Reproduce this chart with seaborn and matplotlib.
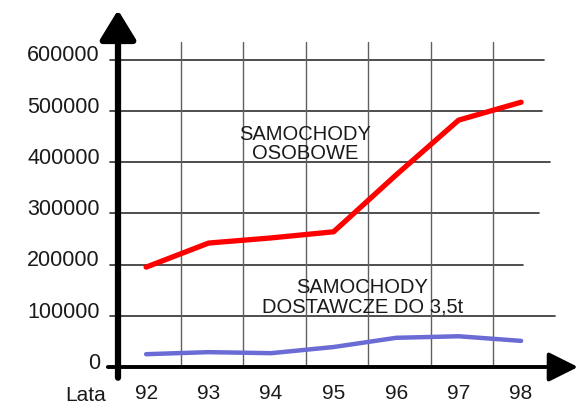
import numpy as np
import pandas as pd
import matplotlib
matplotlib.use('Agg')
import matplotlib.pyplot as plt
import matplotlib.transforms as mtransforms
import seaborn as sns

# dane
lata = [92, 93, 94, 95, 96, 97, 98]
osobowe = [195000, 242000, 252000, 264000, 375000, 482000, 517000]
dostawcze = [25000, 29000, 27000, 39000, 57000, 60000, 51000]
y_ticks = [0, 100000, 200000, 300000, 400000, 500000, 600000]
y_labels = ['0', '100000', '200000', '300000', '400000', '500000', '600000']
x_labels = ['92', '93', '94', '95', '96', '97', '98']

df = pd.DataFrame({'rok': lata, 'osobowe': osobowe, 'dostawcze': dostawcze})

sns.set_style('white')
plt.rcParams['font.family'] = ['Liberation Sans', 'DejaVu Sans']

fig = plt.figure(figsize=(5.78, 4.07), dpi=100)
ax = fig.add_axes([118 / 578, 40 / 407, 460 / 578, 357 / 407])
ax.set_xlim(91.55, 98.91)
ax.set_ylim(0, 697000)
for s in ax.spines.values():
    s.set_visible(False)

# siatka
grid_ends = [98.54, 98.03, 98.29, 98.46, 98.34, 98.37]
for v, xe in zip(y_ticks[1:], grid_ends):
    ax.plot([91.42, xe], [v, v], color='#303030', lw=1.2, zorder=1, clip_on=False)
for x in np.arange(92.5, 98, 1.0):
    ax.plot([x + 0.05, x + 0.05], [0, 635000], color='#606060', lw=1.0, zorder=1)

sns.lineplot(data=df, x='rok', y='osobowe', ax=ax, color='#ff0000', lw=3.8, zorder=3)
sns.lineplot(data=df, x='rok', y='dostawcze', ax=ax, color='#6b6bd6', lw=3.2, zorder=3)

# osie ze strzalkami
ax.annotate('', xy=(0, 1.0), xytext=(0, -0.03), xycoords='axes fraction',
            arrowprops=dict(arrowstyle='-|>,head_length=0.9,head_width=0.55',
                            lw=4.5, color='black', mutation_scale=20, shrinkA=0, shrinkB=0),
            annotation_clip=False, zorder=4)
ax.annotate('', xy=(1.0, 0), xytext=(-0.022, 0), xycoords='axes fraction',
            arrowprops=dict(arrowstyle='-|>,head_length=0.9,head_width=0.45',
                            lw=2.8, color='black', mutation_scale=20, shrinkA=0, shrinkB=0),
            annotation_clip=False, zorder=4)

ax.set_xlabel('')
ax.set_ylabel('')
ax.set_yticks(y_ticks, y_labels, fontsize=15.5, color='#1a1a1a')
ax.set_xticks(lata, x_labels, fontsize=15, color='#1a1a1a')
ax.tick_params(axis='y', length=0, pad=13)
ax.tick_params(axis='x', length=0, pad=12)
up = mtransforms.ScaledTranslation(0, 4.5 / 72, fig.dpi_scale_trans)
for lab in ax.get_yticklabels():
    lab.set_transform(lab.get_transform() + up)

ax.text(-0.07, -0.081, 'Lata', transform=ax.transAxes, fontsize=15,
        color='#1a1a1a', ha='center', va='center')

ax.text(94.54, 435500, 'SAMOCHODY\nOSOBOWE', fontsize=14.5, color='#1a1a1a',
        ha='center', va='center', linespacing=0.95, zorder=5)
ax.text(95.46, 135700, 'SAMOCHODY\nDOSTAWCZE DO 3,5t', fontsize=14.5, color='#1a1a1a',
        ha='center', va='center', linespacing=1.0, zorder=5)

fig.savefig('out.png', dpi=100)
